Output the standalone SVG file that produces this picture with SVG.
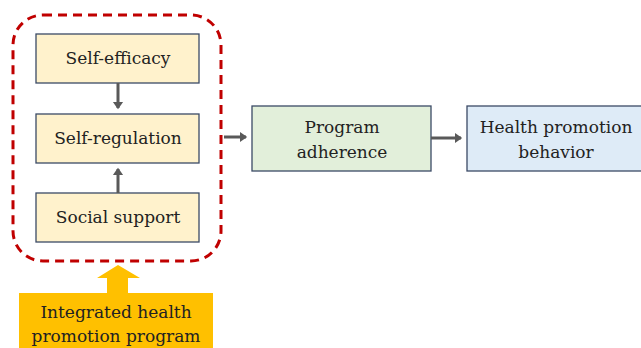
<svg xmlns="http://www.w3.org/2000/svg" width="641" height="348" viewBox="0 0 641 348">
<defs>
<style>
.box{stroke:#3b4a66;stroke-width:1.3}
.y{fill:#fff2cc}
.t{font-family:'DejaVu Serif',serif;font-size:17px;fill:#222;text-anchor:middle}
.c{stroke:#595959;stroke-width:3;fill:none}
</style>
<marker id="ah" markerWidth="4" markerHeight="4" refX="2" refY="2" orient="auto" markerUnits="strokeWidth">
<path d="M0,0.3 L2.4,2 L0,3.7 Z" fill="#595959"/>
</marker>
</defs>
<rect width="641" height="348" fill="#fff"/>
<g id="group">
<rect x="13" y="15" width="208" height="246" rx="30" fill="none" stroke="#c00000" stroke-width="3" stroke-dasharray="9,6"/>
</g>
<g id="self-efficacy">
<rect class="box y" x="36" y="34" width="163" height="49"/>
<text class="t" x="118" y="64">Self-efficacy</text>
</g>
<g id="self-regulation">
<rect class="box y" x="36" y="114" width="163" height="49"/>
<text class="t" x="118" y="144">Self-regulation</text>
</g>
<g id="social-support">
<rect class="box y" x="36" y="193" width="163" height="49"/>
<text class="t" x="118" y="223">Social support</text>
</g>
<g id="program-adherence">
<rect class="box" fill="#e2efda" x="252" y="106" width="179" height="65"/>
<text class="t" x="342" y="133">Program</text>
<text class="t" x="342" y="158">adherence</text>
</g>
<g id="health-promotion">
<rect class="box" fill="#deebf7" x="467" y="106" width="180" height="65"/>
<text class="t" x="556" y="133">Health promotion</text>
<text class="t" x="556" y="158">behavior</text>
</g>
<g id="integrated-program">
<path d="M107,293 V278 H97 L118,265 L140,278 H128 V293 Z" fill="#ffc000"/>
<rect x="19" y="293" width="194" height="55" fill="#ffc000"/>
<text class="t" x="116" y="318">Integrated health</text>
<text class="t" x="116" y="342">promotion program</text>
</g>
<g id="connectors">
<line class="c" x1="118" y1="83" x2="118" y2="108" marker-end="url(#ah)"/>
<line class="c" x1="118" y1="193" x2="118" y2="169" marker-end="url(#ah)"/>
<line class="c" x1="224" y1="137" x2="246" y2="137" marker-end="url(#ah)"/>
<line class="c" x1="431" y1="138" x2="461" y2="138" marker-end="url(#ah)"/>
</g>
</svg>
